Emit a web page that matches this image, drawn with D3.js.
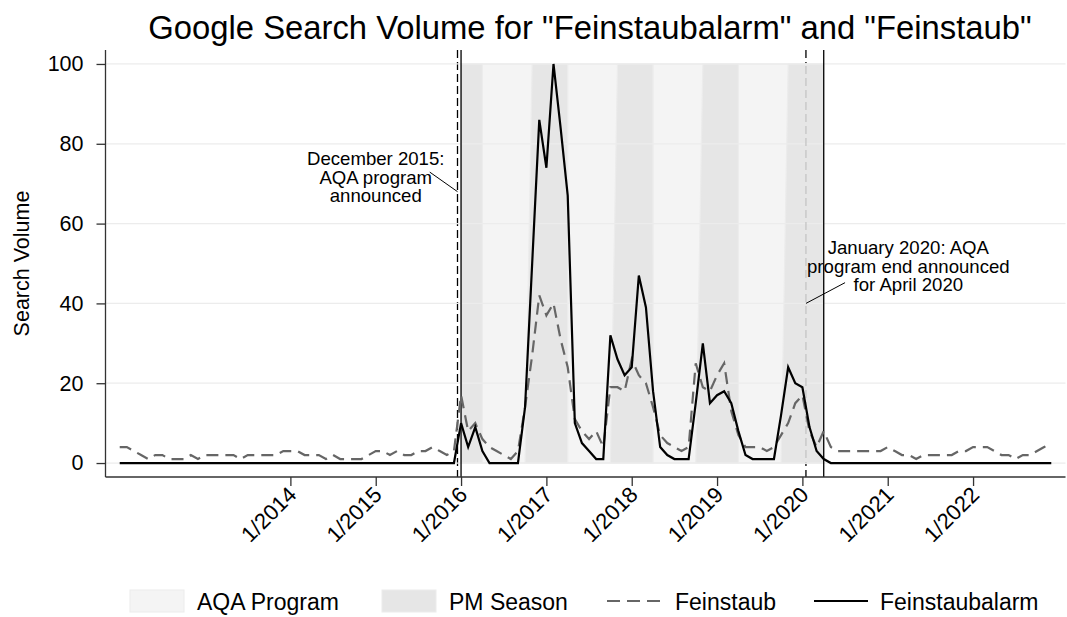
<!DOCTYPE html>
<html>
<head>
<meta charset="utf-8">
<script src="https://cdn.jsdelivr.net/npm/d3@7"></script>
<style>
  html, body { margin: 0; padding: 0; background: #fff; }
  svg { display: block; }
  text { font-family: "Liberation Sans", Arial, Helvetica, sans-serif; fill: #000; }
</style>
</head>
<body>
<svg id="chart" width="1067" height="617"></svg>
<script>
// ---- Data (monthly, Jan 2012 .. Dec 2022) ----
const startYear = 2012;
const feinstaubalarm = [
  0,0,0,0,0,0,0,0,0,0,0,0,          // 2012
  0,0,0,0,0,0,0,0,0,0,0,0,          // 2013
  0,0,0,0,0,0,0,0,0,0,0,0,          // 2014
  0,0,0,0,0,0,0,0,0,0,0,0,          // 2015
  10,4,9,3,0,0,0,0,0,14,50,86,      // 2016
  74,100,84,67,10,5,3,1,1,32,26,22, // 2017
  24,47,39,18,4,2,1,1,1,15,30,15,   // 2018
  17,18,15,8,2,1,1,1,1,12,24,20,    // 2019
  19,9,3,1,0,0,0,0,0,0,0,0,         // 2020
  0,0,0,0,0,0,0,0,0,0,0,0,          // 2021
  0,0,0,0,0,0,0,0,0,0,0,0           // 2022
];
const feinstaub = [
  4,4,3,2,1,2,2,1,1,1,2,1,          // 2012
  2,2,2,2,2,1,2,2,2,2,2,3,          // 2013
  3,3,2,2,2,1,2,1,1,1,1,2,          // 2014
  3,3,2,3,2,2,3,3,4,3,2,3,          // 2015
  17,8,10,6,4,3,2,1,3,14,27,42,     // 2016
  37,40,31,24,11,8,6,8,4,19,19,18,  // 2017
  26,22,20,14,7,5,4,3,4,25,19,18,   // 2018
  22,25,13,7,4,4,4,3,4,7,10,15,     // 2019
  17,8,4,8,4,3,3,3,3,3,3,3,         // 2020
  4,3,2,2,1,2,2,2,2,2,3,3,          // 2021
  4,4,4,3,2,2,1,2,2,3,4,5           // 2022
];
const xTickLabels = ["1/2014","1/2015","1/2016","1/2017","1/2018","1/2019","1/2020","1/2021","1/2022"];
const yTicks = [0, 20, 40, 60, 80, 100];
// AQA program period (year, month)
const aqaStart = [2016, 1];
const aqaEnd = [2020, 4];
// PM seasons: month when full season starts, month when it ends
const pmStart = [[2015,11],[2016,11],[2017,11],[2018,11],[2019,11]];
const pmEnd   = [[2016,4],[2017,4],[2018,4],[2019,4],[2020,4]];
// Events (year, month, day-fraction)
const eventAnnounce = [2015, 12, 0.5];
const eventEnd = [2020, 1, 0.5];
const legendLabels = ["AQA Program", "PM Season", "Feinstaub", "Feinstaubalarm"];
const chartTitle = 'Google Search Volume for "Feinstaubalarm" and "Feinstaub"';
const yTitle = "Search Volume";
const noteAnnounce = ["December 2015:", "AQA program", "announced"];
const noteEnd = ["January 2020: AQA", "program end announced", "for April 2020"];

(function () {
// ---- helpers ----
const mi = (yr, m, f = 0) => (yr - startYear) * 12 + (m - 1) + f;
const series1 = feinstaub.map((v, i) => ({ i, v }));
const series2 = feinstaubalarm.map((v, i) => ({ i, v }));

const svg = d3.select("#chart");
const pL = 105.5, pR = 1065.5, pT = 50, pB = 477;

const x = d3.scaleLinear().domain([-2, feinstaub.length + 1]).range([pL, pR]);
const y = d3.scaleLinear().domain([-3.5, 103.5]).range([pB, pT]);

const colAQA = "#f4f4f4", colPM = "#e6e6e6", colGrid = "#ececec";
const dashSeries = "12,7";

// Title
svg.append("text").attr("x", 590).attr("y", 39).attr("text-anchor", "middle")
  .attr("font-size", 32.8).text(chartTitle);

// Dashed event lines, drawn underneath
[eventAnnounce, eventEnd].forEach(ev => {
  svg.append("line").attr("x1", x(mi(...ev))).attr("x2", x(mi(...ev)))
    .attr("y1", pT).attr("y2", pB).attr("stroke", "#000").attr("stroke-width", 1.3)
    .attr("stroke-dasharray", "8,4");
});

// AQA program area
const a0 = mi(...aqaStart), a1 = mi(...aqaEnd);
svg.append("rect").attr("x", x(a0)).attr("y", y(100)).attr("width", x(a1) - x(a0))
  .attr("height", y(0) - y(100)).attr("fill", colAQA).attr("stroke", "#e8e8e8").attr("stroke-width", 1);

// PM season areas (clipped to AQA window)
svg.append("clipPath").attr("id", "aqaClip").append("rect")
  .attr("x", x(a0)).attr("y", y(100) - 1).attr("width", x(a1) - x(a0)).attr("height", y(0) - y(100) + 2);
const pmG = svg.append("g").attr("clip-path", "url(#aqaClip)");
pmStart.forEach((s, k) => {
  const s1 = mi(...s), e1 = mi(...pmEnd[k]);
  const pts = [[s1 - 1, 0], [s1, 100], [e1, 100], [e1, 0]];
  pmG.append("path")
    .attr("d", d3.line().x(d => x(d[0])).y(d => y(d[1]))(pts) + "Z")
    .attr("fill", colPM).attr("stroke", "#ececec").attr("stroke-width", 1.2);
});

// Grid lines
svg.append("g").selectAll("line").data(yTicks).join("line")
  .attr("x1", pL).attr("x2", pR).attr("y1", d => y(d)).attr("y2", d => y(d))
  .attr("stroke", colGrid).attr("stroke-width", 1.3);

// 2020 dashed line inside the shaded area appears light grey
svg.append("line").attr("x1", x(mi(...eventEnd))).attr("x2", x(mi(...eventEnd)))
  .attr("y1", y(100)).attr("y2", y(0)).attr("stroke", "#c4c4c4").attr("stroke-width", 1.3)
  .attr("stroke-dasharray", "8,4").attr("stroke-dashoffset", -(y(100) - pT));

// Solid AQA start/end lines
[a0, a1].forEach(m => {
  svg.append("line").attr("x1", x(m)).attr("x2", x(m)).attr("y1", pT).attr("y2", pB)
    .attr("stroke", "#000").attr("stroke-width", 1.3);
});

// Series lines
const line = d3.line().x(d => x(d.i)).y(d => y(d.v));
svg.append("path").datum(series1).attr("d", line).attr("fill", "none")
  .attr("stroke", "#666").attr("stroke-width", 2.2).attr("stroke-dasharray", dashSeries);
svg.append("path").datum(series2).attr("d", line).attr("fill", "none")
  .attr("stroke", "#000").attr("stroke-width", 2.2);

// Axes
const yAxis = d3.axisLeft(y).tickValues(yTicks).tickSize(9).tickPadding(13);
const gy = svg.append("g").attr("transform", `translate(${pL},0)`).call(yAxis);
gy.select(".domain").attr("d", `M0,${pT}V${pB}`).attr("stroke", "#333").attr("stroke-width", 1.3);
gy.selectAll(".tick line").attr("stroke", "#333").attr("stroke-width", 1.3);
gy.selectAll(".tick text").attr("font-size", 21.5).attr("font-family", "Liberation Sans, Arial, sans-serif").attr("fill", "#000");

const xTickVals = xTickLabels.map(s => mi(+s.split("/")[1], +s.split("/")[0]));
const xAxis = d3.axisBottom(x).tickValues(xTickVals).tickFormat((d, k) => xTickLabels[k]).tickSize(9);
const gx = svg.append("g").attr("transform", `translate(0,${pB})`).call(xAxis);
gx.select(".domain").attr("d", `M${pL},0H${pR}`).attr("stroke", "#333").attr("stroke-width", 1.3);
gx.selectAll(".tick line").attr("stroke", "#333").attr("stroke-width", 1.3);
gx.selectAll(".tick text").attr("font-size", 22).attr("font-family", "Liberation Sans, Arial, sans-serif")
  .attr("fill", "#000").attr("text-anchor", "end").attr("dy", null).attr("y", 0)
  .attr("transform", "translate(7,19) rotate(-45)");

// Y title
svg.append("text").attr("transform", `translate(29,${y(50)}) rotate(-90)`)
  .attr("text-anchor", "middle").attr("font-size", 21.5).text(yTitle);

// Annotations
function note(lines, cx, cyMid, fs) {
  const t = svg.append("text").attr("text-anchor", "middle").attr("font-size", fs);
  lines.forEach((l, k) => t.append("tspan").attr("x", cx).attr("y", cyMid + (k - 1) * 18.7 + 6).text(l));
}
note(noteAnnounce, x(36.0), y(71.5), 18.6);
svg.append("line").attr("x1", x(43.6)).attr("y1", y(72.9)).attr("x2", x(mi(...eventAnnounce))).attr("y2", y(68))
  .attr("stroke", "#000").attr("stroke-width", 1);
note(noteEnd, x(110.9), y(49.2), 18.6);
svg.append("line").attr("x1", x(102)).attr("y1", y(45.2)).attr("x2", x(mi(...eventEnd))).attr("y2", y(40))
  .attr("stroke", "#000").attr("stroke-width", 1);

// Legend
const lg = svg.append("g");
const ly = 601;
const lfs = 23;
lg.append("rect").attr("x", 130).attr("y", ly - 11).attr("width", 54).attr("height", 22).attr("fill", colAQA).attr("stroke", "#ececec");
lg.append("text").attr("x", 197).attr("y", ly + 8.5).attr("font-size", lfs).text(legendLabels[0]);
lg.append("rect").attr("x", 382).attr("y", ly - 11).attr("width", 54).attr("height", 22).attr("fill", colPM).attr("stroke", "#ececec");
lg.append("text").attr("x", 449).attr("y", ly + 8.5).attr("font-size", lfs).text(legendLabels[1]);
lg.append("line").attr("x1", 607).attr("x2", 661).attr("y1", ly).attr("y2", ly)
  .attr("stroke", "#666").attr("stroke-width", 2.2).attr("stroke-dasharray", "13,7");
lg.append("text").attr("x", 675).attr("y", ly + 8.5).attr("font-size", lfs).text(legendLabels[2]);
lg.append("line").attr("x1", 814).attr("x2", 868).attr("y1", ly).attr("y2", ly)
  .attr("stroke", "#000").attr("stroke-width", 2.2);
lg.append("text").attr("x", 880).attr("y", ly + 8.5).attr("font-size", lfs).text(legendLabels[3]);
})();
</script>
</body>
</html>
